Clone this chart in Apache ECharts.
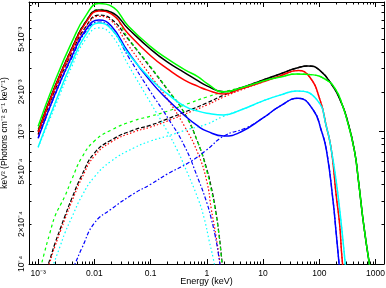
<!DOCTYPE html>
<html><head><meta charset="utf-8">
<script src="https://cdn.jsdelivr.net/npm/echarts@6/dist/echarts.min.js"></script>
<style>html,body{margin:0;padding:0;background:#fff}#c{width:386px;height:288px}</style>
</head><body><div id="c"></div>
<script>
// Energy in keV, flux in keV^2 (Photons cm^-2 s^-1 keV^-1)
const xTickValues = [0.001, 0.01, 0.1, 1, 10, 100, 1000];
const xTickLabels = ['10⁻³', '0.01', '0.1', '1', '10', '100', '1000'];
const yTickValues = [1e-4, 2e-4, 5e-4, 1e-3, 2e-3, 5e-3];
const yTickLabels = ['10⁻⁴', '2×10⁻⁴', '5×10⁻⁴', '10⁻³', '2×10⁻³', '5×10⁻³'];

const blackTotal = [[0.001,1.01e-3],[0.002,2.21e-3],[0.004,4.30e-3],[0.007,6.75e-3],[0.012,8.3e-3],[0.02,8.0e-3],[0.04,6.0e-3],[0.1,4.2e-3],[0.2,3.35e-3],[0.4,2.8e-3],[0.7,2.42e-3],[1,2.22e-3],[2,2.0e-3],[4,2.14e-3],[10,2.46e-3],[20,2.73e-3],[40,3.03e-3],[63,3.14e-3],[100,2.93e-3],[175,2.2e-3],[240,1.7e-3],[304,1.29e-3],[420,7.27e-4],[500,4.17e-4],[620,1.94e-4],[800,9.3e-5]];
const redTotal = [[0.001,9.9e-4],[0.002,2.18e-3],[0.004,4.22e-3],[0.007,6.64e-3],[0.012,8.17e-3],[0.02,7.76e-3],[0.04,5.5e-3],[0.1,3.75e-3],[0.2,2.98e-3],[0.4,2.45e-3],[0.7,2.2e-3],[1,2.07e-3],[2,1.93e-3],[4,2.10e-3],[10,2.38e-3],[20,2.64e-3],[42,2.9e-3],[67,2.6e-3],[103,1.74e-3],[134,1.09e-3],[164,7.27e-4],[200,3.3e-4],[230,2.0e-4],[250,1.2e-4],[280,7e-5]];
const greenTotal = [[0.001,1.10e-3],[0.002,2.43e-3],[0.004,4.79e-3],[0.007,7.5e-3],[0.012,9.3e-3],[0.02,8.9e-3],[0.04,6.3e-3],[0.1,4.4e-3],[0.2,3.55e-3],[0.4,2.95e-3],[0.7,2.6e-3],[1,2.32e-3],[2,2.0e-3],[4,2.14e-3],[10,2.42e-3],[20,2.59e-3],[40,2.73e-3],[70,2.7e-3],[134,2.46e-3],[200,2.05e-3],[264,1.54e-3],[300,1.3e-3],[420,7.27e-4],[500,4.17e-4],[620,1.94e-4],[800,9.3e-5]];
const blueTotal = [[0.001,8.95e-4],[0.002,1.93e-3],[0.004,3.73e-3],[0.007,5.87e-3],[0.012,6.98e-3],[0.02,6.29e-3],[0.04,4.0e-3],[0.1,2.4e-3],[0.2,1.75e-3],[0.4,1.33e-3],[0.7,1.10e-3],[1,1.01e-3],[2,9.27e-4],[4,9.95e-4],[10,1.27e-3],[20,1.56e-3],[42,1.79e-3],[78,1.46e-3],[108,1.03e-3],[134,7.27e-4],[175,3.05e-4],[200,1.7e-4],[225,1.0e-4],[250,6e-5]];
const cyanTotal = [[0.001,7.66e-4],[0.002,1.65e-3],[0.004,3.36e-3],[0.007,5.39e-3],[0.012,6.64e-3],[0.02,5.97e-3],[0.04,3.9e-3],[0.1,2.5e-3],[0.2,1.93e-3],[0.4,1.56e-3],[0.7,1.43e-3],[1,1.38e-3],[2,1.34e-3],[4,1.46e-3],[10,1.71e-3],[20,1.89e-3],[40,2.03e-3],[91,1.74e-3],[134,1.09e-3],[164,7.27e-4],[200,4.2e-4],[230,2.6e-4],[260,1.6e-4],[290,1.0e-4],[320,6.5e-5]];

const blackDisk = [[0.001,9.6e-4],[0.002,2.07e-3],[0.004,3.98e-3],[0.007,6.2e-3],[0.012,7.6e-3],[0.02,7.1e-3],[0.04,5.0e-3],[0.1,3.05e-3],[0.2,2.08e-3],[0.4,1.38e-3],[0.7,8.2e-4],[1,5.2e-4],[1.2,3.8e-4],[1.4,2.7e-4],[1.6,1.85e-4],[1.8,1.2e-4],[2.0,7.5e-5]];
const redDisk = [[0.001,9.4e-4],[0.002,2.04e-3],[0.004,3.92e-3],[0.007,6.1e-3],[0.012,7.45e-3],[0.02,6.9e-3],[0.04,4.5e-3],[0.1,2.65e-3],[0.2,1.76e-3],[0.4,1.1e-3],[0.7,6.8e-4],[1,4.2e-4],[1.2,2.6e-4],[1.4,1.8e-4],[1.6,1.25e-4],[1.8,8.5e-5]];
const greenDisk = [[0.001,1.05e-3],[0.002,2.2e-3],[0.004,4.35e-3],[0.007,6.8e-3],[0.012,8.4e-3],[0.02,7.9e-3],[0.04,5.1e-3],[0.1,3.1e-3],[0.2,2.1e-3],[0.4,1.38e-3],[0.7,8.2e-4],[1,5.0e-4],[1.2,3.6e-4],[1.4,2.6e-4],[1.6,1.8e-4],[1.8,1.15e-4],[2.0,7e-5]];
const blueDisk = [[0.001,8.9e-4],[0.002,1.9e-3],[0.004,3.64e-3],[0.007,5.7e-3],[0.012,6.75e-3],[0.02,6.0e-3],[0.04,3.7e-3],[0.1,2.0e-3],[0.2,1.28e-3],[0.4,7.8e-4],[0.7,4.4e-4],[1,2.9e-4],[1.2,2.2e-4],[1.4,1.65e-4],[1.6,1.2e-4],[1.8,8.5e-5]];
const cyanDisk = [[0.001,7.6e-4],[0.002,1.55e-3],[0.004,3.13e-3],[0.007,5.0e-3],[0.012,6.1e-3],[0.02,5.4e-3],[0.04,3.2e-3],[0.1,1.65e-3],[0.2,1.0e-3],[0.3,7.2e-4],[0.4,5.5e-4],[0.7,3.1e-4],[0.9,2.2e-4],[1.1,1.5e-4],[1.3,1.1e-4],[1.5,8e-5]];

const blackCompLow = [[0.0013,8.26e-5],[0.0016,1.07e-4],[0.002,1.44e-4],[0.0025,1.87e-4],[0.003,2.31e-4],[0.004,3.16e-4],[0.006,4.71e-4],[0.01,6.9e-4],[0.02,8.66e-4],[0.05,1.03e-3],[0.1,1.12e-3],[0.2,1.25e-3],[0.5,1.46e-3],[1,1.65e-3],[2,1.89e-3],[5,2.21e-3],[10,2.46e-3]];
const redCompLow = [[0.0013,7.84e-5],[0.0016,1.02e-4],[0.002,1.37e-4],[0.0025,1.78e-4],[0.003,2.19e-4],[0.004,2.99e-4],[0.006,4.47e-4],[0.01,6.55e-4],[0.02,8.36e-4],[0.05,9.95e-4],[0.1,1.085e-3],[0.2,1.205e-3],[0.5,1.41e-3],[1,1.59e-3],[2,1.83e-3],[5,2.14e-3],[10,2.38e-3]];
const greenCompLow = [[0.0011,9.3e-5],[0.0013,1.23e-4],[0.0016,1.69e-4],[0.002,2.31e-4],[0.0025,2.8e-4],[0.003,3.27e-4],[0.004,4.4e-4],[0.006,6.4e-4],[0.01,8.5e-4],[0.02,1.03e-3],[0.05,1.21e-3],[0.1,1.31e-3],[0.2,1.43e-3],[0.5,1.65e-3],[1,1.83e-3],[2,2.0e-3],[5,2.21e-3],[10,2.42e-3]];
const blueCompLow = [[0.004,9.0e-5],[0.0045,1.0e-4],[0.006,1.32e-4],[0.01,2.04e-4],[0.02,2.6e-4],[0.05,3.4e-4],[0.1,4.0e-4],[0.2,4.8e-4],[0.5,5.9e-4],[1,7.3e-4],[2,9.27e-4],[5,1.07e-3],[10,1.27e-3]];
const cyanCompLow = [[0.0018,9.5e-5],[0.0025,1.39e-4],[0.003,1.72e-4],[0.004,2.27e-4],[0.006,3.27e-4],[0.01,4.55e-4],[0.02,6.0e-4],[0.05,7.53e-4],[0.1,8.5e-4],[0.2,9.28e-4],[0.5,1.05e-3],[1,1.14e-3],[2,1.31e-3],[5,1.51e-3],[10,1.71e-3]];

const L = Math.log10;
const xMinL = -3.163, xMaxL = 3.151, yMinL = -4, yMaxL = -2.0197;
const FONT = '"Liberation Sans", Arial, Helvetica, sans-serif';

function majors(lo, hi) { const o = []; for (let k = -6; k <= 4; k++) { if (k >= lo - 1e-9 && k <= hi + 1e-9) o.push(k); } return o; }
function minors(lo, hi) { const o = []; for (let k = -6; k <= 4; k++) for (let m = 2; m <= 9; m++) { const v = L(m) + k; if (v >= lo && v <= hi) o.push(v); } return o; }
function lbl(vals, labels) { return function (v) { for (let i = 0; i < vals.length; i++) if (Math.abs(L(vals[i]) - v) < 1e-6) return labels[i]; return ''; }; }

const xMaj = majors(xMinL, xMaxL), xMin = minors(xMinL, xMaxL);
const yMaj = majors(yMinL, yMaxL), yMin = minors(yMinL, yMaxL);
const xLab = xTickValues.map(L), yLab = yTickValues.map(L);

function xAx(pos, ticks, len, withLine, withLabel) {
  return {
    type: 'value', min: xMinL, max: xMaxL, position: pos, silent: true,
    axisLine: { show: withLine, onZero: false, lineStyle: { color: '#000', width: 1 } },
    axisTick: { show: true, inside: true, length: len, customValues: ticks, lineStyle: { color: '#000', width: 1 } },
    axisLabel: withLabel ? { show: true, customValues: xLab, formatter: lbl(xTickValues, xTickLabels), margin: 5, fontSize: 8.5, color: '#000', fontFamily: FONT } : { show: false },
    splitLine: { show: false },
    name: withLabel ? 'Energy (keV)' : '', nameLocation: 'middle', nameGap: 13.5, nameMoveOverlap: false,
    nameTextStyle: { fontSize: 9, color: '#000', fontFamily: FONT }
  };
}
function yAx(pos, ticks, len, withLine, withLabel) {
  return {
    type: 'value', min: yMinL, max: yMaxL, position: pos, silent: true,
    axisLine: { show: withLine, onZero: false, lineStyle: { color: '#000', width: 1 } },
    axisTick: { show: true, inside: true, length: len, customValues: ticks, lineStyle: { color: '#000', width: 1 } },
    axisLabel: withLabel ? { show: true, customValues: yLab, formatter: lbl(yTickValues, yTickLabels), rotate: 90, margin: 3, fontSize: 8.5, color: '#000', fontFamily: FONT } : { show: false },
    splitLine: { show: false },
    name: withLabel ? 'keV² (Photons cm⁻² s⁻¹ keV⁻¹)' : '', nameLocation: 'middle', nameGap: 20, nameRotate: 90, nameMoveOverlap: false,
    nameTextStyle: { fontSize: 8.5, color: '#000', fontFamily: FONT }
  };
}

function toLog(arr) { return arr.map(p => [L(p[0]), L(p[1])]); }
function withHigh(low, total) { return low.concat(total.filter(p => p[0] > low[low.length - 1][0])); }

const COLORS = { black: '#000000', red: '#ff0000', green: '#00ff00', blue: '#0000ff', cyan: '#00ffff' };
const DASH = { black: [4, 2], red: [1.5, 2], green: [3, 3], blue: [4, 2, 1.5, 2], cyan: [1.5, 2.5] };

function line(data, color, dash, width, z) {
  return { type: 'line', data: toLog(data), showSymbol: false, symbol: 'none', smooth: 0.5,
    lineStyle: { color: color, width: width, type: dash || 'solid' }, silent: true, z: z, animation: false };
}

const comps = [
  ['black', blackDisk, withHigh(blackCompLow, blackTotal)],
  ['red', redDisk, withHigh(redCompLow, redTotal)],
  ['green', greenDisk, withHigh(greenCompLow, greenTotal)],
  ['blue', blueDisk, withHigh(blueCompLow, blueTotal)],
  ['cyan', cyanDisk, withHigh(cyanCompLow, cyanTotal)]
];
const totals = [['black', blackTotal], ['red', redTotal], ['green', greenTotal], ['blue', blueTotal], ['cyan', cyanTotal]];

const series = [];
comps.forEach(([c, d, cp]) => { series.push(line(d, COLORS[c], DASH[c], 1.2, 2)); series.push(line(cp, COLORS[c], DASH[c], 1.2, 2)); });
totals.forEach(([c, t]) => series.push(line(t, COLORS[c], 'solid', 1.5, 3)));

const chart = echarts.init(document.getElementById('c'), null, { renderer: 'canvas' });
chart.setOption({
  animation: false,
  backgroundColor: '#fff',
  grid: { left: 29, right: 2, top: 2, bottom: 24, containLabel: false, outerBoundsMode: 'none' },
  xAxis: [xAx('bottom', xMaj, 5, true, true), xAx('bottom', xMin, 2.5, false, false), xAx('top', xMaj, 5, true, false), xAx('top', xMin, 2.5, false, false)],
  yAxis: [yAx('left', yMaj, 5, true, true), yAx('left', yMin, 2.5, false, false), yAx('right', yMaj, 5, true, false), yAx('right', yMin, 2.5, false, false)],
  series: series
});
</script></body></html>
